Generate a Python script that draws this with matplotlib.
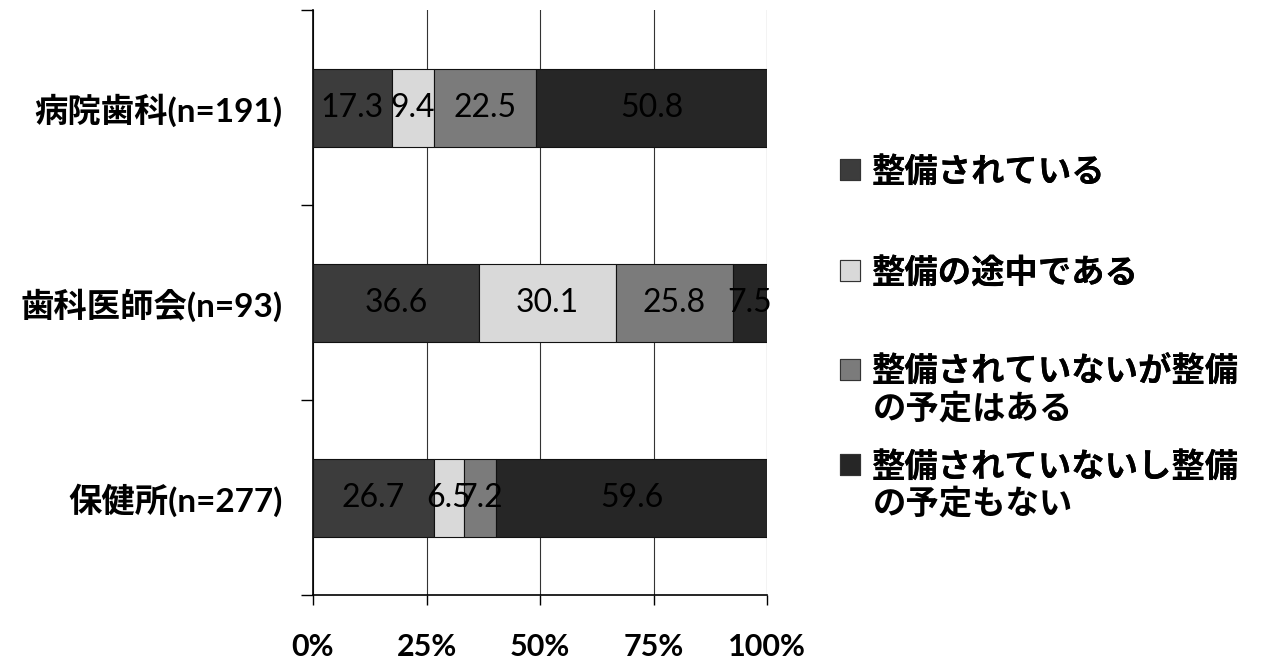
import numpy as np
import matplotlib
matplotlib.use('Agg')
import matplotlib.pyplot as plt
from matplotlib.patches import Patch
from matplotlib.ticker import FixedLocator

plt.rcParams['font.family'] = ['Lato', 'Noto Sans CJK JP', 'DejaVu Sans']

categories = ['病院歯科(n=191)', '歯科医師会(n=93)', '保健所(n=277)']
series = ['整備されている', '整備の途中である',
          '整備されていないが整備\nの予定はある', '整備されていないし整備\nの予定もない']
values = [
    [17.3, 36.6, 26.7],
    [9.4, 30.1, 6.5],
    [22.5, 25.8, 7.2],
    [50.8, 7.5, 59.6],
]
xticks = [0, 25, 50, 75, 100]
xlabels = ['0%', '25%', '50%', '75%', '100%']

colors = ['#3c3c3c', '#d9d9d9', '#7b7b7b', '#262626']

fig = plt.figure(figsize=(12.63, 6.68), dpi=100)
ax = fig.add_axes([313 / 1263, 1 - 595 / 668, (767 - 313) / 1263, 585 / 668])

y = np.arange(len(categories))
left = np.zeros(len(categories))
handles = []
for vals, col, name in zip(values, colors, series):
    vals = np.array(vals)
    ax.barh(y, vals, left=left, height=0.4, color=col,
            edgecolor='#111111', linewidth=0.8, zorder=3)
    for yi, l, v in zip(y, left, vals):
        ax.text(l + v / 2, yi, f'{v:.1f}', ha='center', va='center',
                fontsize=23, color='black', zorder=4)
    left = left + vals
    handles.append(Patch(facecolor=col, edgecolor='#333333', linewidth=0.8))

ax.set_xlim(0, 100)
ax.set_ylim(2.5, -0.5)
ax.set_xticks(xticks)
ax.set_xticklabels(xlabels, fontsize=22, fontweight='bold')
ax.set_yticks(y)
ax.set_yticklabels(categories, fontsize=24, fontweight='bold')
ax.yaxis.set_minor_locator(FixedLocator([-0.5, 0.5, 1.5, 2.5]))
ax.tick_params(axis='y', which='major', length=0, pad=22)
ax.tick_params(axis='y', which='minor', length=9, width=1, direction='out')
ax.tick_params(axis='x', length=7, width=1, direction='out', pad=20)
ax.grid(axis='x', color='#333333', linewidth=0.8, zorder=0)
for s in ['top', 'right']:
    ax.spines[s].set_visible(False)
ax.spines['left'].set_linewidth(1.2)
ax.spines['bottom'].set_linewidth(1.2)

# legend: one entry each, marker on the first line of the label
leg_font = {'family': ['Noto Sans CJK JP'], 'weight': 'bold', 'size': 24}
leg_y = [172, 273, 372, 467]
for h, name, yy in zip(handles, series, leg_y):
    lines = name.split('\n')
    leg = fig.legend(handles=[h], labels=[lines[0]], loc='center left',
                     bbox_to_anchor=(840 / 1263, 1 - yy / 668), frameon=False,
                     borderaxespad=0, borderpad=0, handlelength=0.6, handleheight=0.6,
                     handletextpad=0.35, prop=leg_font)
    fig.add_artist(leg)
    if len(lines) > 1:
        fig.text(873 / 1263, 1 - (yy + 37) / 668, lines[1], ha='left', va='center',
                 **{'fontfamily': ['Noto Sans CJK JP'], 'fontweight': 'bold', 'fontsize': 24})

fig.savefig('out.png', dpi=100)
